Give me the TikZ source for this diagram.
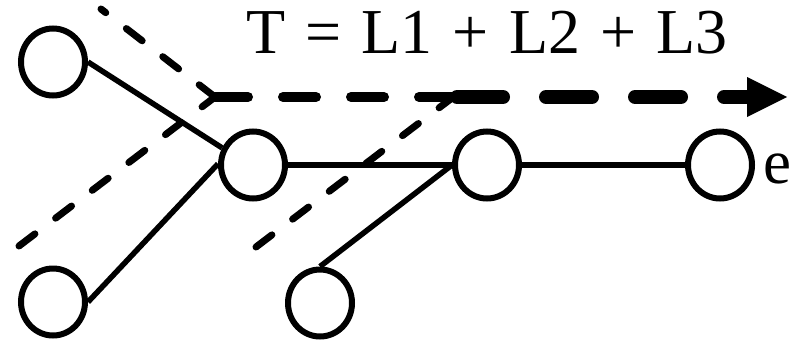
\documentclass[tikz,border=0pt]{standalone}
\usepackage{fontspec}
\newfontfamily\timesfont{Liberation Serif}
\newfontfamily\titlefont{Liberation Serif}[WordSpace=1.25]
\usetikzlibrary{arrows.meta,shapes.geometric}
\begin{document}
\begin{tikzpicture}[x=1pt,y=-1pt,
  vert/.style={ellipse,draw,line width=6pt,minimum width=64pt,minimum height=67pt,inner sep=0pt},
  edge/.style={line width=5.5pt},
  diag/.style={line width=7pt,line cap=round,dash pattern=on 20pt off 26pt},
  flowA/.style={line width=10pt,line cap=round,dash pattern=on 33pt off 35pt},
  flowB/.style={line width=14pt,line cap=round,dash pattern=on 46pt off 43pt},
  lbl/.style={font=\timesfont\fontsize{63}{63}\selectfont,inner sep=0pt},
  ttl/.style={font=\titlefont\fontsize{64}{64}\selectfont,inner sep=0pt}]
\useasboundingbox (0,0) rectangle (799,340);
% vertices
\node[vert] (tl) at (53,62) {};
\node[vert] (bl) at (53,302) {};
\node[vert] (c1) at (253,165) {};
\node[vert] (c2) at (487,165) {};
\node[vert] (c3) at (320,303) {};
\node[vert] (c4) at (720,165) {};
% labels
\node[ttl,anchor=base] (title) at (487,53) {T = L1 + L2 + L3};
\node[lbl,anchor=base west] (elab) at (763,183) {e};
% edges
\draw[edge] (tl.east) -- (c1.151);
\draw[edge] (bl.east) -- (c1.178);
\draw[edge] (c1.east) -- (c2.west);
\draw[edge] (c3.north) -- (c2.west);
\draw[edge] (c2.east) -- (c4.west);
% flow coordinates
\coordinate (a1) at (101,9);
\coordinate (a2) at (19,246);
\coordinate (j1) at (215,97);
\coordinate (h1) at (458,97);
\coordinate (b1) at (256,247);
\coordinate (j2) at (452,98);
\coordinate (h2) at (457,97);
\coordinate (tip) at (787,97);
% dashed flows
\draw[diag] (j1) -- (a1);
\draw[diag] (a2) -- (j1);
\draw[flowA] (j1) -- (h1);
\draw[diag] (b1) -- (j2);
\draw[flowB,-{Triangle[length=40pt,width=40pt,line width=0pt]}] (h2) -- (tip);
\end{tikzpicture}
\end{document}
